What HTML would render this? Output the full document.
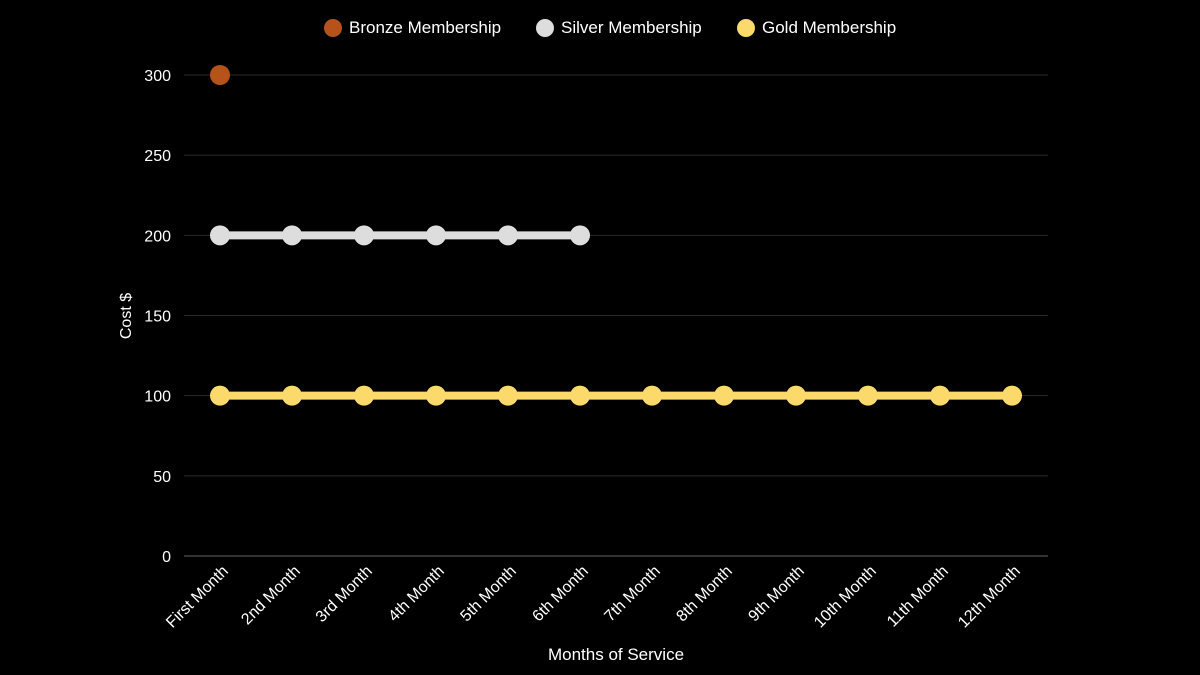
<!DOCTYPE html>
<html><head><meta charset="utf-8"><style>
html,body{margin:0;padding:0;background:#000;}
svg{display:block;font-family:"Liberation Sans",sans-serif;}
</style></head><body>
<svg id="chart" width="1200" height="675"></svg>
<script>
const categories=["First Month","2nd Month","3rd Month","4th Month","5th Month","6th Month","7th Month","8th Month","9th Month","10th Month","11th Month","12th Month"];
const bronze=[300,null,null,null,null,null,null,null,null,null,null,null];
const silver=[200,200,200,200,200,200,null,null,null,null,null,null];
const gold=[100,100,100,100,100,100,100,100,100,100,100,100];
const yTicks=[0,50,100,150,200,250,300];
const seriesNames=["Bronze Membership","Silver Membership","Gold Membership"];
const colors=["#b5531a","#dddddd","#fbd96a"];

const NS="http://www.w3.org/2000/svg";
const svg=document.getElementById('chart');
const L=184,R=1048,T=75,B=556;
const x=i=>L+(R-L)/categories.length*(i+0.5);
const y=v=>B-(v/300)*(B-T);
function mk(tag,attrs,parent){const e=document.createElementNS(NS,tag);for(const k in attrs)e.setAttribute(k,attrs[k]);(parent||svg).appendChild(e);return e;}

yTicks.forEach(v=>{
  const g=mk('line',{x1:L,x2:R,y1:y(v),y2:y(v),stroke:v===0?'#666':'#2a2a2a','stroke-width':1});
  
  
  const t=mk('text',{x:171,y:y(v)+6,'text-anchor':'end',fill:'#fff','font-size':16});
  t.textContent=v;
  
  
});
categories.forEach((c,i)=>{
  const t=mk('text',{x:0,y:0,'text-anchor':'end',fill:'#fff','font-size':16,transform:`translate(${x(i)+9},${572}) rotate(-45)`});
  t.textContent=c;
  
  
});
const yt=mk('text',{x:0,y:0,'text-anchor':'middle',fill:'#fff','font-size':16,transform:'translate(131,316) rotate(-90)'});
yt.textContent='Cost $';


const xt=mk('text',{x:616,y:660,'text-anchor':'middle',fill:'#fff','font-size':17});
xt.textContent='Months of Service';



[bronze,silver,gold].forEach((s,si)=>{
  const pts=[];s.forEach((v,i)=>{if(v!==null)pts.push([x(i),y(v)]);});
  if(pts.length>1){
    const p=mk('polyline',{points:pts.map(p=>p.join(',')).join(' '),fill:'none',stroke:colors[si],'stroke-width':8});
    
    
  }
  pts.forEach(p=>{
    const c=mk('circle',{cx:p[0],cy:p[1],r:10,fill:colors[si]});
    
    
  });
});
const lx=[333,545,746];
seriesNames.forEach((n,i)=>{
  const c=mk('circle',{cx:lx[i],cy:28,r:9,fill:colors[i]});
  
  
  const t=mk('text',{x:lx[i]+16,y:33,fill:'#fff','font-size':17});
  t.textContent=n;
  
  
});
</script>
</body></html>
